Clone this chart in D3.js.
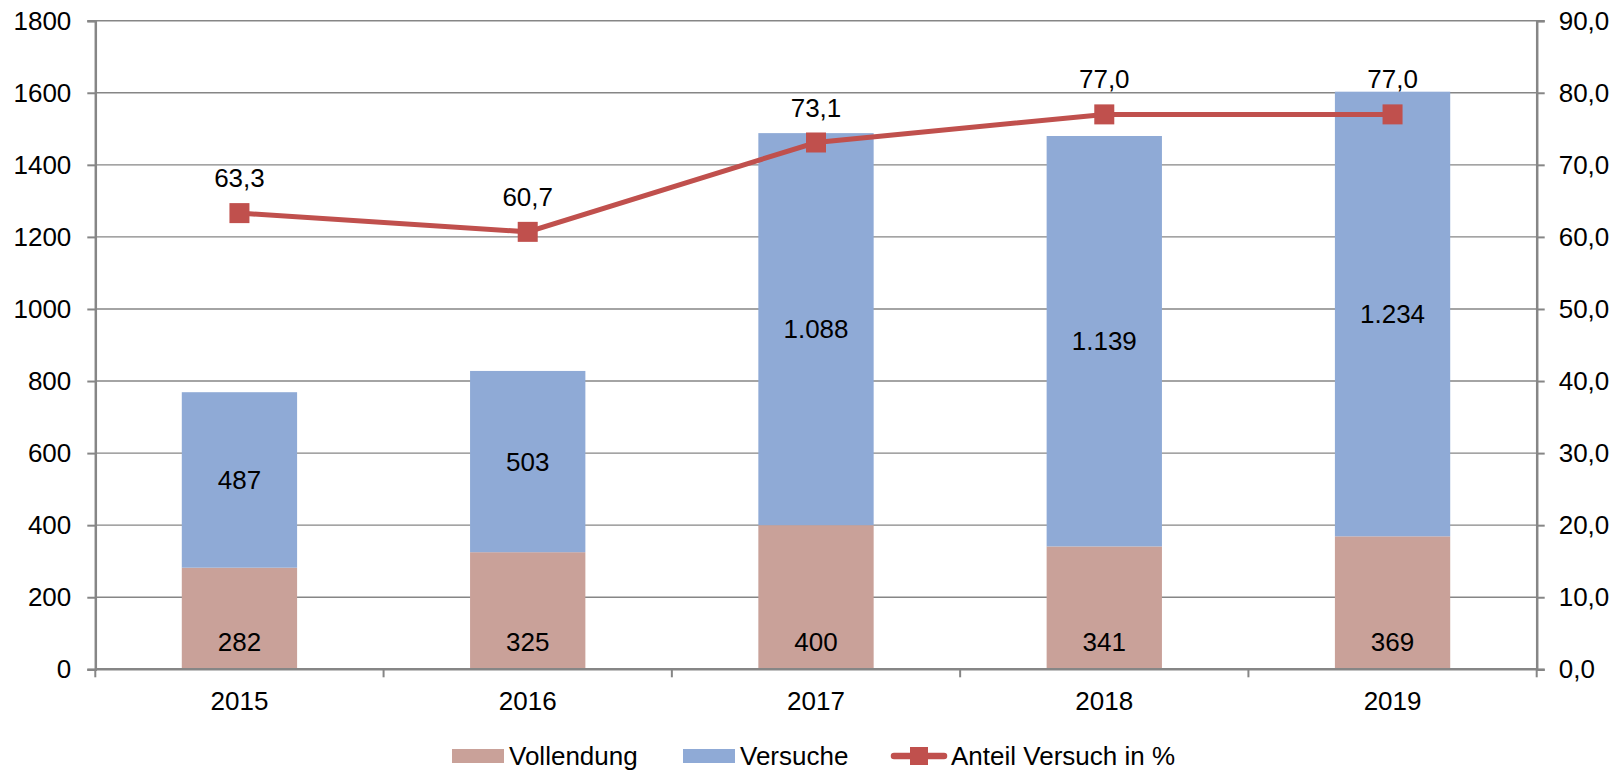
<!DOCTYPE html>
<html>
<head>
<meta charset="utf-8">
<script src="https://cdnjs.cloudflare.com/ajax/libs/d3/7.8.5/d3.min.js"></script>
<style>
  body { margin: 0; background: #fff; }
  text { font-family: "Liberation Sans", Arial, sans-serif; fill: #000; }
</style>
</head>
<body>
<div id="chart"></div>
<script>
var years = ["2015", "2016", "2017", "2018", "2019"];
var vollendung = [282, 325, 400, 341, 369];
var versuche = [487, 503, 1088, 1139, 1234];
var anteil = [63.3, 60.7, 73.1, 77.0, 77.0];
var leftTicks = [0, 200, 400, 600, 800, 1000, 1200, 1400, 1600, 1800];
var rightTicks = [0, 10, 20, 30, 40, 50, 60, 70, 80, 90];

var width = 1621, height = 771;
var plotLeft = 95.3, plotRight = 1536.7, plotTop = 20.7, plotBottom = 669.3;
var gray = "#868686";
var fs = 26;
var fmt = d3.format(",d");
function deNum(v) { return fmt(v).replace(/,/g, "."); }
function deDec(v) { return v.toFixed(1).replace(".", ","); }

var svg = d3.select("#chart").append("svg")
  .attr("width", width)
  .attr("height", height);

var x = d3.scaleBand().domain(years).range([plotLeft, plotRight]).paddingInner(0.6).paddingOuter(0.3);
var xb = d3.scaleBand().domain(years).range([plotLeft, plotRight]);
var y = d3.scaleLinear().domain([0, 1800]).range([plotBottom, plotTop]);
var y2 = d3.scaleLinear().domain([0, 90]).range([plotBottom, plotTop]);

// gridlines
svg.append("g").selectAll("line")
  .data(leftTicks.slice(1))
  .enter().append("line")
  .attr("x1", plotLeft).attr("x2", plotRight)
  .attr("y1", function(d) { return y(d); })
  .attr("y2", function(d) { return y(d); })
  .attr("stroke", gray).attr("stroke-width", 1.4);

// bars
var bars = svg.append("g");
bars.selectAll(".voll")
  .data(years).enter().append("rect")
  .attr("x", function(d) { return x(d); })
  .attr("width", x.bandwidth())
  .attr("y", function(d, i) { return y(vollendung[i]); })
  .attr("height", function(d, i) { return y(0) - y(vollendung[i]); })
  .attr("fill", "#C9A199");
bars.selectAll(".vers")
  .data(years).enter().append("rect")
  .attr("x", function(d) { return x(d); })
  .attr("width", x.bandwidth())
  .attr("y", function(d, i) { return y(vollendung[i] + versuche[i]); })
  .attr("height", function(d, i) { return y(vollendung[i]) - y(vollendung[i] + versuche[i]); })
  .attr("fill", "#8FAAD6");

// axes
var yAxisL = d3.axisLeft(y).tickValues(leftTicks).tickSize(8).tickPadding(16).tickFormat(d3.format("d"));
var gL = svg.append("g").attr("transform", "translate(" + plotLeft + ",0)").call(yAxisL);
var yAxisR = d3.axisRight(y2).tickValues(rightTicks).tickSize(8).tickPadding(14).tickFormat(deDec);
var gR = svg.append("g").attr("transform", "translate(" + plotRight + ",0)").call(yAxisR);
var xAxis = d3.axisBottom(xb).tickSize(0).tickPadding(22);
var gX = svg.append("g").attr("transform", "translate(0," + plotBottom + ")").call(xAxis);
[gL, gR, gX].forEach(function(g) {
  g.select(".domain").attr("stroke", gray).attr("stroke-width", 2.5);
  g.selectAll(".tick line").attr("stroke", gray).attr("stroke-width", 2);
  g.selectAll("text").attr("font-size", fs).attr("fill", "#000")
    .style("font-family", "'Liberation Sans', Arial, sans-serif");
});
gX.select(".domain").attr("d", "M" + plotLeft + ",0H" + plotRight);
// category boundary ticks
gX.selectAll(".sep")
  .data(years.concat(["end"])).enter().append("line")
  .attr("x1", function(d, i) { return plotLeft + i * xb.step(); })
  .attr("x2", function(d, i) { return plotLeft + i * xb.step(); })
  .attr("y1", 0).attr("y2", 8)
  .attr("stroke", gray).attr("stroke-width", 2);

// bar labels
svg.append("g").selectAll("text")
  .data(years).enter().append("text")
  .attr("x", function(d) { return x(d) + x.bandwidth() / 2; })
  .attr("y", function(d, i) { return y(0) - 27; })
  .attr("dy", "0.35em")
  .attr("text-anchor", "middle").attr("font-size", fs)
  .text(function(d, i) { return deNum(vollendung[i]); });
svg.append("g").selectAll("text")
  .data(years).enter().append("text")
  .attr("x", function(d) { return x(d) + x.bandwidth() / 2; })
  .attr("y", function(d, i) { return y(vollendung[i] + versuche[i] / 2); })
  .attr("dy", "0.35em")
  .attr("text-anchor", "middle").attr("font-size", fs)
  .text(function(d, i) { return deNum(versuche[i]); });

// line
var line = d3.line()
  .x(function(d, i) { return xb(years[i]) + xb.bandwidth() / 2; })
  .y(function(d) { return y2(d); });
svg.append("path")
  .datum(anteil)
  .attr("d", line)
  .attr("fill", "none")
  .attr("stroke", "#C0504D")
  .attr("stroke-width", 5);
svg.append("g").selectAll("rect")
  .data(anteil).enter().append("rect")
  .attr("x", function(d, i) { return xb(years[i]) + xb.bandwidth() / 2 - 10; })
  .attr("y", function(d) { return y2(d) - 10; })
  .attr("width", 20).attr("height", 20)
  .attr("fill", "#C0504D");
svg.append("g").selectAll("text")
  .data(anteil).enter().append("text")
  .attr("x", function(d, i) { return xb(years[i]) + xb.bandwidth() / 2; })
  .attr("y", function(d) { return y2(d) - 35; })
  .attr("dy", "0.35em")
  .attr("text-anchor", "middle").attr("font-size", fs)
  .text(function(d) { return deDec(d); });

// legend
var legend = svg.append("g").attr("transform", "translate(0,756)");
legend.append("rect").attr("x", 452).attr("y", -7).attr("width", 52).attr("height", 14).attr("fill", "#C9A199");
legend.append("text").attr("x", 509).attr("dy", "0.35em").attr("font-size", fs).text("Vollendung");
legend.append("rect").attr("x", 683).attr("y", -7).attr("width", 52).attr("height", 14).attr("fill", "#8FAAD6");
legend.append("text").attr("x", 740).attr("dy", "0.35em").attr("font-size", fs).text("Versuche");
legend.append("line").attr("x1", 894).attr("x2", 944).attr("y1", 0).attr("y2", 0)
  .attr("stroke", "#C0504D").attr("stroke-width", 6.5).attr("stroke-linecap", "round");
legend.append("rect").attr("x", 910).attr("y", -9).attr("width", 18).attr("height", 18).attr("fill", "#C0504D");
legend.append("text").attr("x", 951).attr("dy", "0.35em").attr("font-size", fs).text("Anteil Versuch in %");
</script>
</body>
</html>
